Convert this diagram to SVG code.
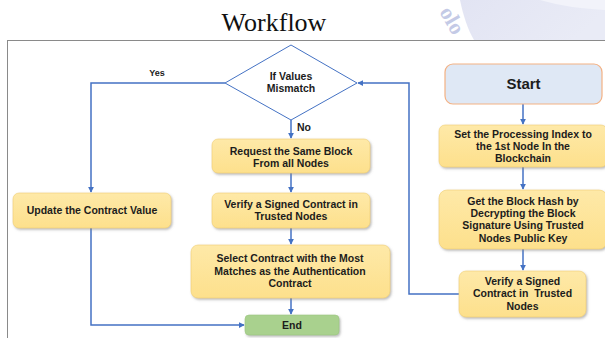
<svg xmlns="http://www.w3.org/2000/svg" width="605" height="338" viewBox="0 0 605 338">
  <defs>
    <linearGradient id="boxFill" x1="0" y1="0" x2="0" y2="1">
      <stop offset="0" stop-color="#fee9a8"/>
      <stop offset="1" stop-color="#fde08c"/>
    </linearGradient>
    <linearGradient id="markFill" x1="0" y1="0" x2="1" y2="0.3">
      <stop offset="0" stop-color="#e2e4f3"/>
      <stop offset="1" stop-color="#e9ebf6"/>
    </linearGradient>
    <filter id="shadow" x="-10%" y="-20%" width="130%" height="150%">
      <feDropShadow dx="1.2" dy="1.5" stdDeviation="1" flood-color="#7f7f7f" flood-opacity="0.55"/>
    </filter>
    <marker id="arrow" viewBox="0 0 8 8" refX="7" refY="4" markerWidth="6" markerHeight="6" markerUnits="userSpaceOnUse" orient="auto">
      <path d="M0,0 L8,4 L0,8 z" fill="#4472c4"/>
    </marker>
  </defs>
  <style>
    .box { fill: url(#boxFill); stroke: #f0cf72; stroke-width: 0.6; filter: url(#shadow); }
    .lbl { font-family: "Liberation Sans", Arial, sans-serif; font-weight: bold; font-size: 10.5px; fill: #1c1c1c; text-anchor: middle; }
    .conn { fill: none; stroke: #4472c4; stroke-width: 1.5; }
    .frame { stroke: #8a8a8a; stroke-width: 1; fill: none; }
  </style>

  <rect width="605" height="338" fill="#ffffff"/>

  <!-- faint logo mark behind the title -->
  <g id="logo-mark">
    <path d="M460,0 C463,15 468,30 474,40 L605,40 L605,0 Z" fill="url(#markFill)"/>
    <path d="M540,0 C560,6 585,9 605,10 L605,0 Z" fill="#f2f3fa"/>
    <text x="446" y="24" transform="rotate(60 446 24)" font-family="Liberation Serif, serif" font-size="22" font-weight="bold" fill="#c4cae6" text-anchor="middle">olo</text>
  </g>

  <!-- title and frame -->
  <text x="274" y="31" font-family="Liberation Serif, 'Times New Roman', serif" font-size="26" fill="#111" text-anchor="middle">Workflow</text>
  <path class="frame" d="M7,40.5 H605 M7.5,40 V338"/>

  <!-- connectors -->
  <g id="connectors">
    <path class="conn" d="M225,83 H91 V192" marker-end="url(#arrow)"/>
    <path class="conn" d="M91,228 V325 H244" marker-end="url(#arrow)"/>
    <path class="conn" d="M291,120 V138" marker-end="url(#arrow)"/>
    <path class="conn" d="M291,173 V192" marker-end="url(#arrow)"/>
    <path class="conn" d="M291,228 V244" marker-end="url(#arrow)"/>
    <path class="conn" d="M291,298 V314" marker-end="url(#arrow)"/>
    <path class="conn" d="M523,104 V124" marker-end="url(#arrow)"/>
    <path class="conn" d="M523,167 V189" marker-end="url(#arrow)"/>
    <path class="conn" d="M523,249 V270" marker-end="url(#arrow)"/>
    <path class="conn" d="M459,294 H409 V83 H358" marker-end="url(#arrow)"/>
    <text class="lbl" x="157" y="76" style="font-size:9px">Yes</text>
    <text class="lbl" x="304" y="131">No</text>
  </g>

  <!-- decision -->
  <g id="decision">
    <path d="M291,45 L357,83 L291,120 L225,83 Z" fill="#ffffff" stroke="#4472c4" stroke-width="1"/>
    <text class="lbl" x="291" y="80">If Values</text>
    <text class="lbl" x="291" y="92">Mismatch</text>
  </g>

  <!-- left column -->
  <g id="update">
    <rect class="box" x="13" y="193" width="158" height="35" rx="6"/>
    <text class="lbl" x="92" y="214">Update the Contract Value</text>
  </g>

  <!-- middle column -->
  <g id="request">
    <rect class="box" x="212" y="139" width="158" height="34" rx="6"/>
    <text class="lbl" x="291" y="155">Request the Same Block</text>
    <text class="lbl" x="291" y="167">From all Nodes</text>
  </g>
  <g id="verify-mid">
    <rect class="box" x="212" y="193" width="158" height="35" rx="6"/>
    <text class="lbl" x="291" y="208">Verify a Signed Contract in</text>
    <text class="lbl" x="291" y="220">Trusted Nodes</text>
  </g>
  <g id="select">
    <rect class="box" x="191" y="245" width="199" height="53" rx="7"/>
    <text class="lbl" x="290" y="262">Select Contract with the Most</text>
    <text class="lbl" x="290" y="275">Matches as the Authentication</text>
    <text class="lbl" x="290" y="287">Contract</text>
  </g>
  <g id="end">
    <rect x="245" y="315" width="94" height="20" rx="4" fill="#a9d18e" stroke="#9cc681" stroke-width="0.6" filter="url(#shadow)"/>
    <text class="lbl" x="292" y="329">End</text>
  </g>

  <!-- right column -->
  <g id="start">
    <rect x="445" y="64" width="157" height="40" rx="8" fill="#dfe8f5" stroke="#f4b183" stroke-width="1.2"/>
    <text class="lbl" x="523.5" y="89" style="font-size:15px">Start</text>
  </g>
  <g id="set-index">
    <rect class="box" x="439" y="125" width="168" height="42" rx="6"/>
    <text class="lbl" x="523" y="138">Set the Processing Index to</text>
    <text class="lbl" x="523" y="150">the 1st Node In the</text>
    <text class="lbl" x="523" y="162">Blockchain</text>
  </g>
  <g id="get-hash">
    <rect class="box" x="439" y="190" width="168" height="59" rx="8"/>
    <text class="lbl" x="523" y="205">Get the Block Hash by</text>
    <text class="lbl" x="523" y="217">Decrypting the Block</text>
    <text class="lbl" x="523" y="229">Signature Using Trusted</text>
    <text class="lbl" x="523" y="242">Nodes Public Key</text>
  </g>
  <g id="verify-right">
    <rect class="box" x="459" y="271" width="127" height="46" rx="7"/>
    <text class="lbl" x="522.5" y="285">Verify a Signed</text>
    <text class="lbl" x="522.5" y="297" xml:space="preserve">Contract in  Trusted</text>
    <text class="lbl" x="522.5" y="310">Nodes</text>
  </g>
</svg>
